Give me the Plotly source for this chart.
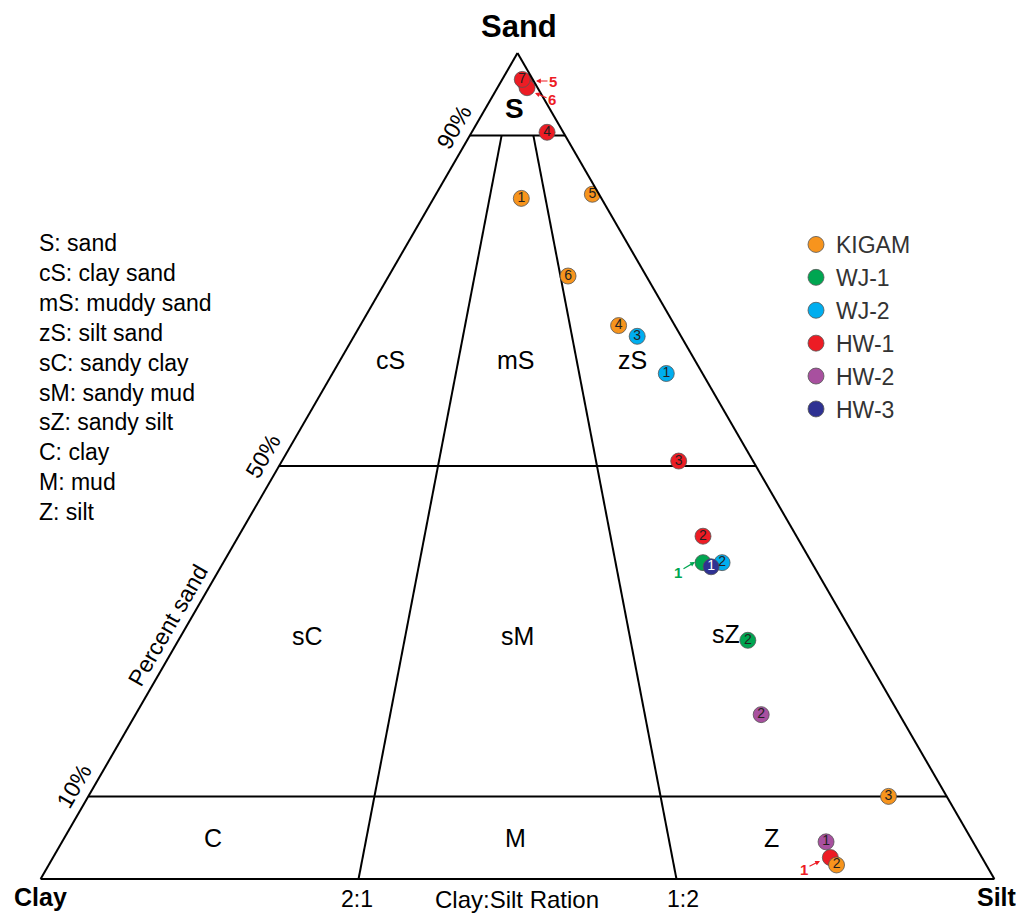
import plotly.graph_objects as go

W, H = 1024, 916
OFF = 8  # page body margin
FONT = "Liberation Sans, Arial, sans-serif"

# ---------------- data (percent): sand, silt, clay ----------------
series_names = ["KIGAM", "WJ-1", "WJ-2", "HW-1", "HW-2", "HW-3"]
series_colors = ["#F7941D", "#00A651", "#00AEEF", "#ED1C24", "#A8509F", "#2E3192"]

kigam_id = ["1", "2", "3", "4", "5", "6"]
kigam_sand = [82.4, 1.7, 10.0, 67.0, 82.9, 73.0]
kigam_silt = [9.2, 82.6, 83.9, 27.1, 16.4, 18.8]
kigam_clay = [8.4, 15.7, 6.1, 5.9, 0.7, 8.2]

wj1_id = ["1", "2"]
wj1_sand = [38.3, 28.9]
wj1_silt = [50.3, 59.7]
wj1_clay = [11.4, 11.4]

wj2_id = ["1", "2", "3"]
wj2_sand = [61.2, 38.3, 65.7]
wj2_silt = [35.0, 52.3, 29.7]
wj2_clay = [3.8, 9.4, 4.6]

hw1_id = ["1", "2", "3", "4", "5", "6", "7"]
hw1_sand = [2.6, 41.5, 50.6, 90.4, 96.5, 95.8, 96.8]
hw1_silt = [81.5, 48.7, 41.6, 7.9, 2.5, 3.1, 2.1]
hw1_clay = [15.9, 9.8, 7.8, 1.7, 1.0, 1.1, 1.1]

hw2_id = ["1", "2"]
hw2_sand = [4.5, 19.9]
hw2_silt = [80.1, 65.6]
hw2_clay = [15.4, 14.5]

hw3_id = ["1"]
hw3_sand = [37.8]
hw3_silt = [51.4]
hw3_clay = [10.8]

# sample numbers hidden under other circles (shown with arrows instead)
hidden = {"WJ-1": ["1"], "HW-1": ["1", "5", "6"]}

# Folk classification boundaries
sand_levels = [90, 50, 10]
ratio_silt_frac = [1 / 3, 2 / 3]  # 2:1 and 1:2 clay:silt
region_labels = ["cS", "mS", "zS", "sC", "sM", "sZ", "C", "M", "Z"]
legend_text = ["S: sand", "cS: clay sand", "mS: muddy sand", "zS: silt sand",
               "sC: sandy clay", "sM: sandy mud", "sZ: sandy silt",
               "C: clay", "M: mud", "Z: silt"]

data = {
    "KIGAM": (kigam_id, kigam_sand, kigam_silt, kigam_clay),
    "WJ-1": (wj1_id, wj1_sand, wj1_silt, wj1_clay),
    "WJ-2": (wj2_id, wj2_sand, wj2_silt, wj2_clay),
    "HW-1": (hw1_id, hw1_sand, hw1_silt, hw1_clay),
    "HW-2": (hw2_id, hw2_sand, hw2_silt, hw2_clay),
    "HW-3": (hw3_id, hw3_sand, hw3_silt, hw3_clay),
}
color_of = dict(zip(series_names, series_colors))

fig = go.Figure()

# boundary lines
for s in sand_levels:
    rest = 100 - s
    fig.add_trace(go.Scatterternary(a=[s, s], b=[rest, 0], c=[0, rest], mode="lines",
                                    line=dict(color="black", width=2),
                                    showlegend=False, hoverinfo="skip"))
for f in ratio_silt_frac:
    top_rest = 100 - sand_levels[0]
    fig.add_trace(go.Scatterternary(a=[sand_levels[0], 0],
                                    b=[top_rest * (1 - f), 100 * (1 - f)],
                                    c=[top_rest * f, 100 * f], mode="lines",
                                    line=dict(color="black", width=2),
                                    showlegend=False, hoverinfo="skip"))

# markers (drawing order chosen so overlaps match)
draw_order = ["HW-1", "HW-2", "WJ-1", "WJ-2", "KIGAM", "HW-3"]
for name in draw_order:
    ids, sand, silt, clay = data[name]
    fig.add_trace(go.Scatterternary(
        a=sand, b=clay, c=silt, mode="markers", name=name,
        legendrank=series_names.index(name) + 1,
        marker=dict(size=16, color=color_of[name], line=dict(color="#555555", width=0.8)),
        hoverinfo="skip"))

# sample numbers
for name in draw_order:
    ids, sand, silt, clay = data[name]
    txt = ["" if i in hidden.get(name, []) else i for i in ids]
    fig.add_trace(go.Scatterternary(
        a=sand, b=clay, c=silt, mode="text", text=txt, showlegend=False,
        textposition="middle center",
        textfont=dict(family=FONT, size=14, color="white" if name == "HW-3" else "#231F20"),
        hoverinfo="skip"))


def px(x):
    return (x - OFF) / W


def py(y):
    return 1 - (y - OFF) / H


ann = []
# corner titles
ann.append(dict(x=px(519), y=py(27), text="<b>Sand</b>", font=dict(size=31, family=FONT, color="black")))
ann.append(dict(x=px(40), y=py(897), text="<b>Clay</b>", font=dict(size=25, family=FONT, color="black")))
ann.append(dict(x=px(997), y=py(897), text="<b>Silt</b>", font=dict(size=25, family=FONT, color="black")))
ann.append(dict(x=px(357), y=py(899), text="2:1", font=dict(size=23, family=FONT, color="black")))
ann.append(dict(x=px(683), y=py(899), text="1:2", font=dict(size=23, family=FONT, color="black")))
ann.append(dict(x=px(517), y=py(899), text="Clay:Silt Ration", font=dict(size=24, family=FONT, color="black")))
# percentages along left edge
for lab, (x, y) in zip(["90%", "50%", "10%"], [(454, 127), (263, 456), (74, 786)]):
    ann.append(dict(x=px(x), y=py(y), text=lab, textangle=-60,
                    font=dict(size=23, family=FONT, color="black")))
ann.append(dict(x=px(168), y=py(625), text="Percent sand", textangle=-60,
                font=dict(size=23, family=FONT, color="black")))
# region labels
ann.append(dict(x=px(514), y=py(108), text="<b>S</b>", font=dict(size=28, family=FONT, color="black")))
for lab, (x, y) in zip(region_labels, [(390, 360), (516, 360), (632, 360), (307, 636),
                                       (517, 636), (726, 634), (213, 838), (515, 838), (771, 838)]):
    ann.append(dict(x=px(x), y=py(y), text=lab, font=dict(size=25, family=FONT, color="black")))
# left legend of classes
ann.append(dict(x=px(37), y=py(228), xanchor="left", yanchor="top", align="left",
                text="<br>".join(legend_text), font=dict(size=23, family=FONT, color="black")))
# arrows for hidden samples
arrows = [("5", "#ED1C24", (536, 81), 17, 0), ("6", "#ED1C24", (535, 93), 17, 7),
          ("1", "#00A651", (695, 562), -17, 10), ("1", "#ED1C24", (820, 861), -16, 8)]
for lab, col, (x, y), dx, dy in arrows:
    ann.append(dict(x=px(x), y=py(y), text="<b>" + lab + "</b>", showarrow=True, ax=dx, ay=dy,
                    arrowhead=2, arrowsize=0.8, arrowwidth=1.2, arrowcolor=col, standoff=0,
                    font=dict(size=15, family=FONT, color=col)))

for a in ann:
    a.setdefault("xref", "paper")
    a.setdefault("yref", "paper")
    a.setdefault("showarrow", False)
    a.setdefault("xanchor", "center")
    a.setdefault("yanchor", "middle")

axis_style = dict(showticklabels=False, ticks="", showgrid=False, linecolor="black",
                  linewidth=2, title=dict(text=""), min=0)

fig.update_layout(
    width=W, height=H,
    margin=dict(l=0, r=0, t=0, b=0),
    paper_bgcolor="white",
    ternary=dict(
        sum=100,
        domain=dict(x=[px(40), px(995)], y=[py(879), py(53)]),
        bgcolor="white",
        aaxis=axis_style, baxis=axis_style, caxis=axis_style,
    ),
    annotations=ann,
    showlegend=True,
    legend=dict(x=px(796), y=py(223), xanchor="left", yanchor="top",
                font=dict(size=23, family=FONT, color="#333333"),
                bgcolor="rgba(0,0,0,0)", tracegroupgap=0),
)

fig.write_html("out.html")
